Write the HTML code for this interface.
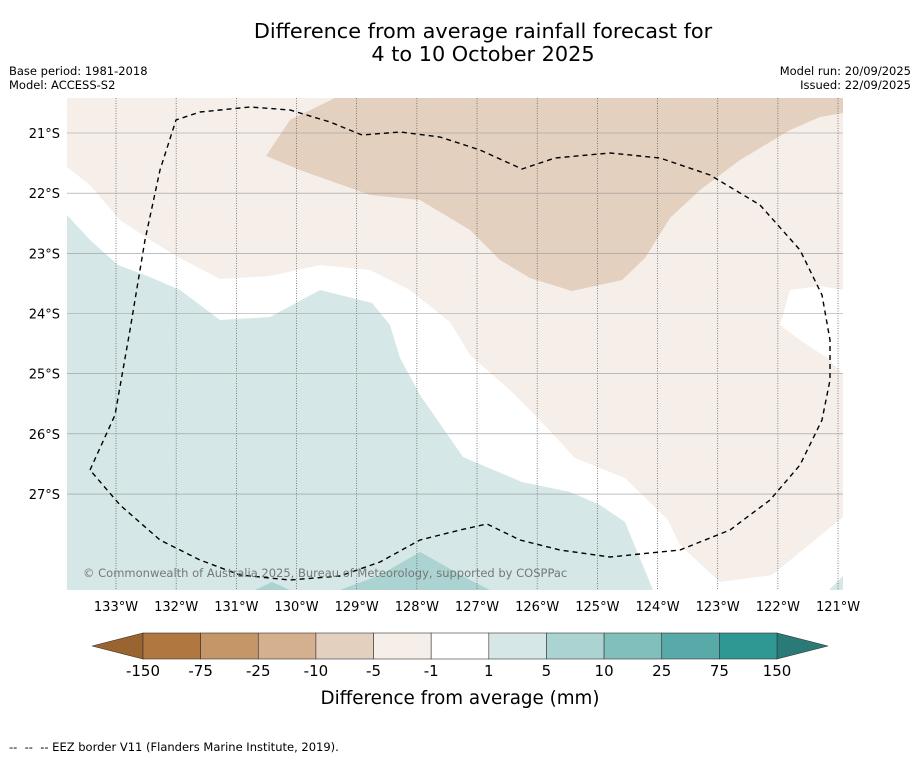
<!DOCTYPE html>
<html><head><meta charset="utf-8"><style>
body{margin:0;background:#fff;width:919px;height:758px;overflow:hidden;font-family:"DejaVu Sans","Liberation Sans",sans-serif;}
svg{display:block}
</style></head><body>
<svg id="chart" width="919" height="758" viewBox="0 0 919 758" xmlns="http://www.w3.org/2000/svg" font-family="DejaVu Sans, Liberation Sans, sans-serif">
<text x="483" y="38" font-size="20.8" text-anchor="middle">Difference from average rainfall forecast for</text>
<text x="483" y="61" font-size="20.8" text-anchor="middle">4 to 10 October 2025</text>
<text x="9" y="75" font-size="11.5">Base period: 1981-2018</text>
<text x="9" y="89" font-size="11.5">Model: ACCESS-S2</text>
<text x="911" y="75" font-size="11.5" text-anchor="end">Model run: 20/09/2025</text>
<text x="911" y="89" font-size="11.5" text-anchor="end">Issued: 22/09/2025</text>
<defs><clipPath id="mapclip"><rect x="67" y="98" width="776" height="492"/></clipPath></defs>
<g id="map" clip-path="url(#mapclip)">
<rect x="67" y="98" width="776" height="492" fill="#ffffff"/>
<polygon fill="#f5eee9" points="67,98 67,167 90,185 120,220 150,240 180,258 220,279 270,276 320,265 370,270 410,290 450,322 470,355 510,390 540,420 575,458 625,478 668,520 680,545 720,582 772,575 843,517 843,375 830,360 800,340 780,325 790,290 820,286 843,290 843,98"/>
<polygon fill="#e3d0bf" points="335,98 290,120 266,156 300,170 370,195 420,200 470,230 500,260 530,278 572,291 622,280 645,258 670,218 700,190 740,160 790,130 820,117 843,113 843,98"/>
<polygon fill="#d5e8e7" points="67,215 90,240 118,265 150,277 180,290 220,320 270,317 320,290 372,303 390,325 400,358 420,395 463,457 522,482 570,492 600,505 625,522 653,590 67,590"/>
<polygon fill="#d5e8e7" points="829,590 843,576 843,590"/>
<polygon fill="#aad3d2" points="255,590 272,582 290,590"/>
<polygon fill="#aad3d2" points="340,590 380,575 420,552 470,580 490,590"/>
<g id="grid"></g>
<polyline fill="none" stroke="#000" stroke-width="1.4" stroke-dasharray="5,4" points="90,470 115,415 130,330 145,240 160,170 176,120 200,112 250,107 290,110 330,122 362,135 400,132 440,137 480,150 522,169 555,158 610,153 660,158 710,175 760,205 800,250 822,295 830,340 830,380 822,420 800,465 770,500 730,530 680,550 610,557 560,550 520,540 487,524 460,530 420,540 380,562 340,576 290,580 240,575 200,560 160,540 120,505 90,470"/>
<text x="83" y="577" font-size="11.5" fill="#777">© Commonwealth of Australia 2025, Bureau of Meteorology, supported by COSPPac</text>
</g>
<g id="axes"></g>
<g id="cbar"></g>
<text x="460" y="704" font-size="18.3" text-anchor="middle">Difference from average (mm)</text>
<text x="9" y="751" font-size="11.5" xml:space="preserve">--  --  -- EEZ border V11 (Flanders Marine Institute, 2019).</text>
</svg>
<script>
const lonTicks=[133,132,131,130,129,128,127,126,125,124,123,122,121];
const latTicks=[21,22,23,24,25,26,27];
const cbarLabels=["-150","-75","-25","-10","-5","-1","1","5","10","25","75","150"];
const cbarColors=["#b07840","#c49668","#d4b08e","#e3d0bf","#f5eee9","#ffffff","#d5e8e7","#aad3d2","#80c0bc","#58aaa8","#2f9893"];
const NS="http://www.w3.org/2000/svg";
const mapL=67,mapR=843,mapT=98,mapB=590;
function xLon(l){return 116+(133-l)*60.17;}
function yLat(l){return 133+(l-21)*60.17;}
function mk(t,a,p){const e=document.createElementNS(NS,t);for(const k in a)e.setAttribute(k,a[k]);p.appendChild(e);return e;}
const grid=document.getElementById('grid'),axes=document.getElementById('axes'),cb=document.getElementById('cbar');
lonTicks.forEach(l=>{const x=xLon(l);
 const g=mk('line',{x1:x,x2:x,y1:mapT,y2:mapB,stroke:'#555','stroke-width':0.7,'stroke-dasharray':'1,1.5'},grid);
 
 
 const t=mk('text',{x:x,y:611,'font-size':13,'text-anchor':'middle'},axes);t.textContent=l+'°W';
 
 
});
latTicks.forEach(l=>{const y=yLat(l);
 const g=mk('line',{x1:mapL,x2:mapR,y1:y,y2:y,stroke:'#999','stroke-width':0.6},grid);
 
 
 const t=mk('text',{x:60,y:y+5,'font-size':13,'text-anchor':'end'},axes);t.textContent=l+'°S';
 
 
});
const cL=143,cR=777,cT=633,cBt=659,bw=(cR-cL)/cbarColors.length;
const lt=mk('polygon',{points:`${cL},${cT} ${cL},${cBt} 92,646`,fill:'#9a6430',stroke:'#333','stroke-width':0.6},cb);


const rt=mk('polygon',{points:`${cR},${cT} ${cR},${cBt} 828,646`,fill:'#2a7b78',stroke:'#333','stroke-width':0.6},cb);


cbarColors.forEach((c,i)=>{const r=mk('rect',{x:cL+i*bw,y:cT,width:bw,height:cBt-cT,fill:c,stroke:'#333','stroke-width':0.6},cb);
 
 });
cbarLabels.forEach((s,i)=>{const t=mk('text',{x:cL+i*bw,y:676,'font-size':15,'text-anchor':'middle'},cb);t.textContent=s;
 
 });
</script>
</body></html>
